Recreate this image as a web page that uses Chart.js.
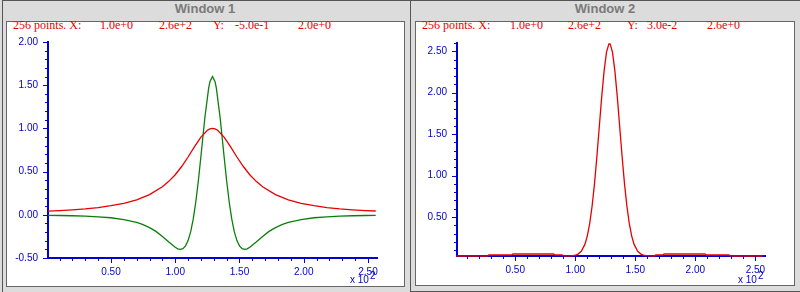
<!DOCTYPE html>
<html>
<head>
<meta charset="utf-8">
<script src="https://cdn.jsdelivr.net/npm/chart.js@4/dist/chart.umd.min.js"></script>
<style>
  body { margin: 0; width: 800px; height: 292px; overflow: hidden; background: #dcdcdc; position: relative; font-family: "Liberation Sans", Arial, sans-serif; }
  .frame { position: absolute; border-left: 1px solid #555; border-top: 1px solid #555; }
  .title { position: absolute; top: 1px; line-height: 16px; font: bold 13px "Liberation Sans", Arial, sans-serif; color: #7a7a7a; text-align: center; }
  .panel { position: absolute; background: #fff; border: 1px solid #666; }
  .hdr { position: absolute; top: 18px; line-height: 14px; font: 12px "Liberation Serif", "Times New Roman", serif; color: #e80000; white-space: pre; }
  .exp { position: absolute; top: 274px; line-height: 12px; font: 10px "Liberation Sans", Arial, sans-serif; color: #0000d0; white-space: pre; }
  .exp sup { font-size: 10px; vertical-align: 4px; line-height: 0; margin-left: 1px; }
  canvas { position: absolute; }
</style>
</head>
<body>
<div class="frame" style="left:2px;top:0;width:407px;height:292px;"></div>
<div class="frame" style="left:410px;top:0;width:390px;height:290px;border-bottom:1px solid #555;"></div>
<div class="title" style="left:2px;width:406px;">Window 1</div>
<div class="title" style="left:410px;width:390px;">Window 2</div>
<div class="panel" style="left:6px;top:21px;width:397px;height:264px;"></div>
<div class="panel" style="left:415px;top:21px;width:378px;height:263px;"></div>

<span class="hdr" style="left:13px;">256 points. X:</span>
<span class="hdr" style="left:100px;">1.0e+0</span>
<span class="hdr" style="left:159px;">2.6e+2</span>
<span class="hdr" style="left:213px;">Y:</span>
<span class="hdr" style="left:235px;">-5.0e-1</span>
<span class="hdr" style="left:298px;">2.0e+0</span>

<span class="hdr" style="left:422px;">256 points. X:</span>
<span class="hdr" style="left:510px;">1.0e+0</span>
<span class="hdr" style="left:568px;">2.6e+2</span>
<span class="hdr" style="left:627px;">Y:</span>
<span class="hdr" style="left:647px;">3.0e-2</span>
<span class="hdr" style="left:707px;">2.6e+0</span>

<canvas id="win1" width="397" height="264" style="left:7px;top:22px;"></canvas>
<canvas id="win2" width="378" height="263" style="left:416px;top:22px;"></canvas>

<span class="exp" style="left:350px;">x 10<sup>2</sup></span>
<span class="exp" style="left:738px;">x 10<sup>2</sup></span>

<script>
// Window 1: red and green curves, x in points (axis shows x 10^2)
const w1RedX = [1, 10, 20, 30, 40, 50, 60, 70, 80, 90, 95, 100, 105, 110, 115, 120, 125, 127, 129, 131, 133, 138, 143, 148, 153, 158, 163, 168, 178, 188, 198, 208, 218, 228, 238, 248, 256];
const w1RedY = [0.043, 0.049, 0.058, 0.069, 0.084, 0.105, 0.133, 0.173, 0.233, 0.324, 0.387, 0.464, 0.559, 0.669, 0.788, 0.900, 0.978, 0.995, 1.000, 0.995, 0.978, 0.900, 0.788, 0.669, 0.559, 0.464, 0.387, 0.324, 0.233, 0.173, 0.133, 0.105, 0.084, 0.069, 0.058, 0.049, 0.044];

const w1GreenX = [1, 10, 20, 30, 40, 50, 60, 70, 75, 80, 85, 90, 95, 100, 102, 104, 106, 108, 110, 112, 114, 116, 118, 120, 123, 126, 127, 129, 131, 132, 135, 138, 140, 142, 144, 146, 148, 150, 152, 154, 156, 158, 163, 168, 173, 178, 183, 188, 198, 208, 218, 228, 238, 248, 256];
const w1GreenY = [-0.006, -0.008, -0.011, -0.016, -0.023, -0.034, -0.055, -0.089, -0.114, -0.148, -0.192, -0.250, -0.314, -0.375, -0.394, -0.400, -0.391, -0.360, -0.299, -0.198, -0.051, 0.148, 0.394, 0.678, 1.118, 1.467, 1.540, 1.600, 1.540, 1.467, 1.118, 0.678, 0.394, 0.148, -0.051, -0.198, -0.299, -0.360, -0.391, -0.400, -0.394, -0.375, -0.314, -0.250, -0.192, -0.148, -0.114, -0.089, -0.055, -0.034, -0.023, -0.016, -0.011, -0.008, -0.006];

// Window 2: red peak over a stepped baseline
const w2RedX = [1, 27, 28, 47, 48, 82, 83, 89, 90, 96, 99, 102, 105, 108, 110, 112, 114, 116, 118, 120, 122, 124, 126, 128, 129, 131, 133, 135, 137, 139, 141, 143, 145, 147, 149, 152, 155, 158, 161, 166, 167, 173, 174, 208, 209, 228, 229, 256];
const w2RedY = [0.03, 0.03, 0.042, 0.042, 0.054, 0.054, 0.042, 0.042, 0.03, 0.032, 0.036, 0.05, 0.086, 0.17, 0.27, 0.42, 0.63, 0.90, 1.23, 1.59, 1.95, 2.26, 2.49, 2.59, 2.59, 2.49, 2.26, 1.95, 1.59, 1.23, 0.90, 0.63, 0.42, 0.27, 0.17, 0.086, 0.05, 0.036, 0.032, 0.03, 0.042, 0.042, 0.054, 0.054, 0.042, 0.042, 0.03, 0.03];

// axis ranges (x in units of 10^2)
const w1XRange = [0.01, 2.57];
const w1YRange = [-0.5, 2.0];
const w2XRange = [0.015, 2.58];
const w2YRange = [0.03, 2.6];

const BLUE = '#0000d0';
const RED = '#e80000';
const GREEN = '#0a800a';

function isMajor(v) {
  return Math.abs(v * 2 - Math.round(v * 2)) < 1e-6;
}

function toPoints(xs, ys) {
  return xs.map((x, i) => ({ x: x / 100, y: ys[i] }));
}

// draws major/minor tick marks on both axes
const tickMarks = {
  id: 'tickMarks',
  afterDraw(chart) {
    const ctx = chart.ctx;
    const area = chart.chartArea;
    const xs = chart.scales.x;
    const ys = chart.scales.y;
    ctx.save();
    ctx.strokeStyle = BLUE;
    ctx.lineWidth = 1;
    ctx.beginPath();
    xs.ticks.forEach(t => {
      const px = Math.round(xs.getPixelForValue(t.value)) + 0.5;
      ctx.moveTo(px, area.bottom);
      ctx.lineTo(px, area.bottom + (isMajor(t.value) ? 5 : 3));
    });
    ys.ticks.forEach(t => {
      const py = Math.round(ys.getPixelForValue(t.value)) + 0.5;
      ctx.moveTo(area.left, py);
      ctx.lineTo(area.left - (isMajor(t.value) ? 5 : 3), py);
    });
    ctx.stroke();
    ctx.restore();
  }
};

function axis(range, fitFn) {
  return {
    type: 'linear',
    min: range[0],
    max: range[1],
    afterFit: fitFn,
    border: { display: true, color: BLUE, width: 2 },
    grid: { display: true, drawOnChartArea: false, drawTicks: true, tickLength: 6, tickColor: 'rgba(0,0,0,0)' },
    ticks: {
      stepSize: 0.1,
      includeBounds: false,
      autoSkip: false,
      maxRotation: 0,
      maxTicksLimit: 100,
      color: BLUE,
      font: { family: '"Liberation Sans", Arial, sans-serif', size: 10 },
      callback: v => isMajor(v) ? v.toFixed(2) : ''
    }
  };
}

function makeChart(id, datasets, xRange, yRange, pad, yWidth, xHeight) {
  const xAxis = axis(xRange, s => { s.height = xHeight; });
  xAxis.ticks.padding = 2;
  const yAxis = axis(yRange, s => { s.width = yWidth; });
  yAxis.ticks.padding = 4;
  return new Chart(document.getElementById(id).getContext('2d'), {
    type: 'line',
    data: { datasets },
    options: {
      responsive: false,
      animation: false,
      devicePixelRatio: 1,
      layout: { padding: pad },
      plugins: { legend: { display: false }, tooltip: { enabled: false } },
      elements: { point: { radius: 0 }, line: { tension: 0, borderWidth: 1.3 } },
      scales: { x: xAxis, y: yAxis }
    },
    plugins: [tickMarks]
  });
}

makeChart('win1', [
  { data: toPoints(w1RedX, w1RedY), borderColor: RED, clip: false },
  { data: toPoints(w1GreenX, w1GreenY), borderColor: GREEN, clip: false }
], w1XRange, w1YRange, { left: 0, right: 27, top: 20, bottom: 0 }, 41, 28);

makeChart('win2', [
  { data: toPoints(w2RedX, w2RedY), borderColor: RED, clip: false }
], w2XRange, w2YRange, { left: 0, right: 29, top: 21, bottom: 0 }, 41, 29);
</script>
</body>
</html>
